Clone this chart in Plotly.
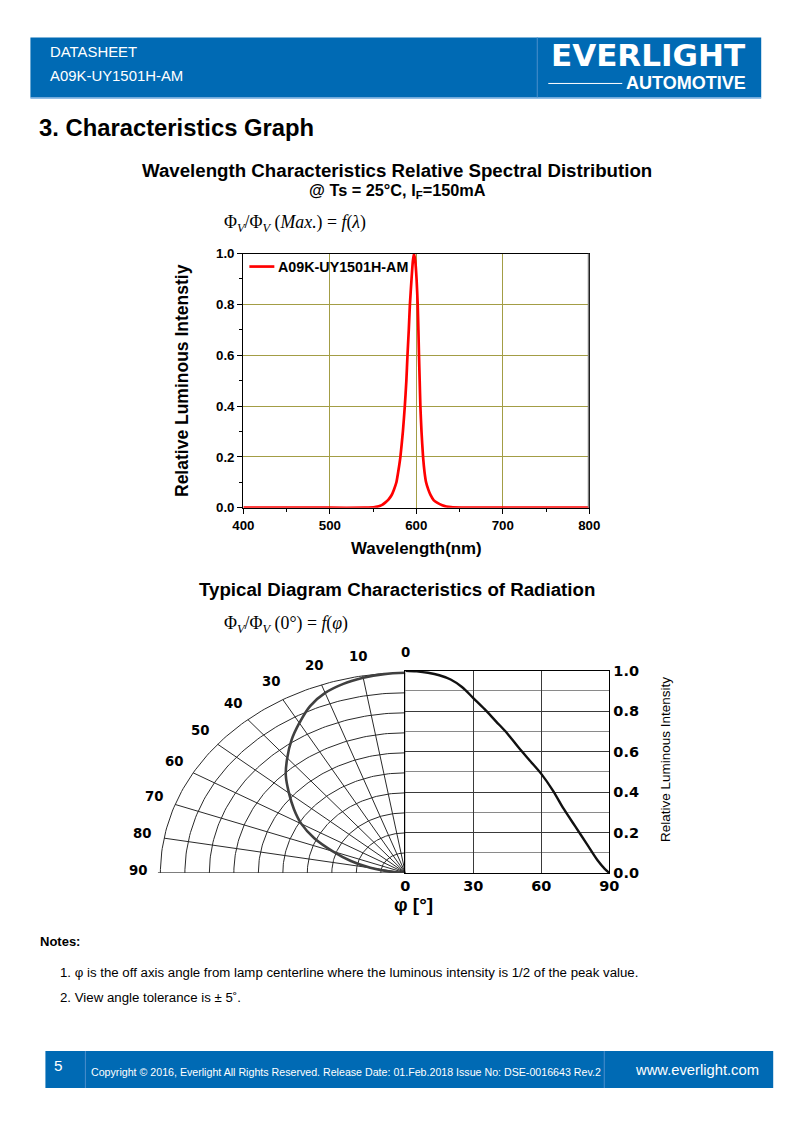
import math
import plotly.graph_objects as go

# Figure sized to fit inside the page body (8px default margin); positions are
# given in reference-page pixels and mapped through a calibrated transform.
OFF = 8
FW, FH = 778, 1107
SX, BX = 0.972, 10.8
SY, BY = 0.985, 8.7
def px(x): return ((x - BX) / SX - OFF) / FW
def py(y): return 1 - ((y - BY) / SY - OFF) / FH

# ---------------- data ----------------
wavelength_nm = [400, 500, 540, 552, 560, 564, 568, 571.5, 574, 577,
                 579.5, 581.6, 584.5, 586.7, 588.5, 589.8, 591.3, 592.6, 594.5, 596,
                 597.3, 598.8, 600.3, 601.6, 602.4, 603.1, 603.9, 604.7, 606, 607.8,
                 609.5, 611.3, 614, 616.4, 620, 624, 630, 640, 660, 700, 800]
rel_intensity = [0, 0, 0, 0.002, 0.01, 0.02, 0.033, 0.05, 0.07, 0.1,
                 0.15, 0.2, 0.3, 0.4, 0.5, 0.6, 0.7, 0.8, 0.9, 0.97,
                 1.0, 0.97, 0.9, 0.8, 0.7, 0.6, 0.5, 0.4, 0.3, 0.2,
                 0.14, 0.1, 0.07, 0.05, 0.03, 0.02, 0.01, 0.002, 0, 0, 0]
series_name = "A09K-UY1501H-AM"

wl_ticks = [400, 500, 600, 700, 800]
int_ticks = [0.0, 0.2, 0.4, 0.6, 0.8, 1.0]
int_tick_text = ["0.0", "0.2", "0.4", "0.6", "0.8", "1.0"]

angle_deg = [0, 5, 10, 15, 20, 25, 30, 35, 40, 45, 50, 55, 60, 65, 70, 75, 80, 85, 88, 90]
rad_intensity = [1.0, 0.997, 0.99, 0.978, 0.957, 0.92, 0.865, 0.81, 0.75, 0.69,
                 0.62, 0.555, 0.49, 0.41, 0.315, 0.23, 0.145, 0.06, 0.02, 0.0]
angle_ticks = [0, 30, 60, 90]
polar_angle_labels = [0, 10, 20, 30, 40, 50, 60, 70, 80, 90]
polar_rings = [0.1, 0.2, 0.3, 0.4, 0.5, 0.6, 0.7, 0.8, 0.9, 1.0]

BLUE = "rgb(0,106,180)"
OLIVE = "#A39D45"
FONT = "Liberation Sans"
WIDE = "DejaVu Sans"

fig = go.Figure()

# ---------- spectral chart ----------
fig.add_trace(go.Scatter(
    x=wavelength_nm, y=rel_intensity, mode="lines", name=series_name,
    line=dict(color="#FF0000", width=2.7, shape="spline", smoothing=0.5),
    xaxis="x", yaxis="y", showlegend=False))

# ---------- polar diagram (drawn on a stretched cartesian plane) ----------
gx, gy = [], []
for r in polar_rings:
    for k in range(0, 91):
        t = math.radians(k)
        gx.append(-r * math.sin(t)); gy.append(r * math.cos(t))
    gx.append(None); gy.append(None)
for a in range(10, 90, 10):
    t = math.radians(a)
    gx += [0, -math.sin(t), None]; gy += [0, math.cos(t), None]
gx += [0, 0, None, 0, -1.01]; gy += [0, 1.0, None, 0, 0]
fig.add_trace(go.Scatter(x=gx, y=gy, mode="lines", line=dict(color="#2a2a2a", width=1),
                         xaxis="x2", yaxis="y2", showlegend=False, hoverinfo="skip"))

pxs = [-r * math.sin(math.radians(a)) for a, r in zip(angle_deg, rad_intensity)]
pys = [r * math.cos(math.radians(a)) for a, r in zip(angle_deg, rad_intensity)]
fig.add_trace(go.Scatter(x=pxs, y=pys, mode="lines",
                         line=dict(color="#404040", width=2.6, shape="spline"),
                         xaxis="x2", yaxis="y2", showlegend=False))

# ---------- cartesian radiation chart ----------
fig.add_trace(go.Scatter(x=angle_deg, y=rad_intensity, mode="lines",
                         line=dict(color="#111111", width=2.4, shape="spline"),
                         xaxis="x3", yaxis="y3", showlegend=False))

tickf = dict(family=FONT, size=13.3, color="black", weight="bold")
tickw = dict(family=WIDE, size=14.5, color="black", weight="bold")

fig.update_layout(
    width=FW, height=FH, margin=dict(l=0, r=0, t=0, b=0),
    paper_bgcolor="white", plot_bgcolor="white",
    font=dict(family=FONT, color="black"),
    xaxis=dict(domain=[px(243), px(589)], range=[400, 800], tickvals=wl_ticks,
               ticks="outside", ticklen=5, tickcolor="black", tickwidth=1,
               minor=dict(tickvals=[450, 550, 650, 750], ticks="outside", ticklen=3, tickcolor="black"),
               showgrid=True, gridcolor=OLIVE, gridwidth=1.3,
               showline=True, linecolor="black", linewidth=1.4, mirror=True,
               zeroline=False, tickfont=tickf, anchor="y", fixedrange=True),
    yaxis=dict(domain=[py(508), py(254)], range=[0, 1], tickvals=int_ticks, ticktext=int_tick_text,
               ticks="outside", ticklen=5, tickcolor="black",
               minor=dict(tickvals=[0.1, 0.3, 0.5, 0.7, 0.9], ticks="outside", ticklen=3, tickcolor="black"),
               showgrid=True, gridcolor=OLIVE, gridwidth=1.3,
               showline=True, linecolor="black", linewidth=1.4, mirror=True,
               zeroline=False, tickfont=tickf, anchor="x", fixedrange=True),
    xaxis2=dict(domain=[px(405 - 1.2 * 245), px(405)], range=[-1.2, 0], visible=False,
                anchor="y2", fixedrange=True),
    yaxis2=dict(domain=[py(873), py(873 - 1.15 * 200)], range=[0, 1.15], visible=False,
                anchor="x2", fixedrange=True),
    xaxis3=dict(domain=[px(405), px(609)], range=[0, 90], tickvals=angle_ticks,
                showgrid=True, gridcolor="#3a3a3a", gridwidth=1, ticks="",
                showline=True, linecolor="black", linewidth=1.3, mirror=True,
                zeroline=False, tickfont=tickw, anchor="y3", fixedrange=True),
    yaxis3=dict(domain=[py(873), py(671)], range=[0, 1], tickvals=int_ticks, ticktext=int_tick_text,
                side="right", ticks="", showgrid=True, gridcolor="#3a3a3a", gridwidth=1,
                minor=dict(tickvals=[0.1, 0.3, 0.5, 0.7, 0.9], showgrid=True, gridcolor="#8a8a8a", gridwidth=1),
                showline=True, linecolor="black", linewidth=1.3, mirror=True,
                zeroline=False, tickfont=tickw, anchor="x3", fixedrange=True),
    showlegend=False,
)

shapes = [
    # header
    dict(type="rect", xref="paper", yref="paper", x0=px(30), x1=px(761), y0=py(98), y1=py(38),
         fillcolor=BLUE, line=dict(width=0), layer="below"),
    dict(type="line", xref="paper", yref="paper", x0=px(30), x1=px(761), y0=py(98.5), y1=py(98.5),
         line=dict(color="#6FA8DC", width=1.5)),
    dict(type="line", xref="paper", yref="paper", x0=px(537), x1=px(537), y0=py(98), y1=py(38),
         line=dict(color="#4A8FCC", width=1)),
    dict(type="line", xref="paper", yref="paper", x0=px(548), x1=px(622), y0=py(84), y1=py(84),
         line=dict(color="white", width=1)),
    # footer
    dict(type="rect", xref="paper", yref="paper", x0=px(45), x1=px(773), y0=py(1088), y1=py(1051),
         fillcolor=BLUE, line=dict(width=0), layer="below"),
    dict(type="line", xref="paper", yref="paper", x0=px(85), x1=px(85), y0=py(1088), y1=py(1051),
         line=dict(color="#4A8FCC", width=1)),
    dict(type="line", xref="paper", yref="paper", x0=px(604), x1=px(604), y0=py(1088), y1=py(1051),
         line=dict(color="#4A8FCC", width=1)),
    # right border of spectral chart (grey)
    dict(type="line", xref="x", yref="y", x0=800, x1=800, y0=0, y1=1,
         line=dict(color="#7f7f7f", width=3)),
    # legend key line
    dict(type="line", xref="paper", yref="paper", x0=px(249), x1=px(274), y0=py(267), y1=py(267),
         line=dict(color="#FF0000", width=2.7)),
]

def ann(x, y, text, size, bold=False, color="black", family=FONT, xanchor="left", angle=0, yanchor="middle"):
    return dict(xref="paper", yref="paper", x=px(x), y=py(y), text=text, showarrow=False,
                xanchor=xanchor, yanchor=yanchor, textangle=angle,
                font=dict(family=family, size=size, color=color, weight="bold" if bold else "normal"))

annotations = [
    ann(48, 53, "DATASHEET", 14.9, color="white"),
    ann(48, 77, "A09K-UY1501H-AM", 14.9, color="white"),
    ann(747, 56, "EVERLIGHT", 31, bold=True, color="white", family="DejaVu Sans", xanchor="right"),
    ann(748, 83.5, "AUTOMOTIVE", 18, bold=True, color="white", xanchor="right"),
    ann(37, 128, "3. Characteristics Graph", 23.8, bold=True),
    ann(397, 171, "Wavelength Characteristics Relative Spectral Distribution", 18.7, bold=True, xanchor="center"),
    ann(397, 191, "@ Ts = 25°C, I<sub>F</sub>=150mA", 16.3, bold=True, xanchor="center"),
    ann(222, 224, "Φ<sub><i>V</i></sub>/Φ<sub><i>V</i></sub> (<i>Max.</i>) = <i>f</i>(<i>λ</i>)", 17.8,
        family="Liberation Serif"),
    ann(276, 267, series_name, 14.3, bold=True),
    ann(181, 381, "Relative Luminous Intenstiy", 17.5, bold=True, xanchor="center", angle=-90),
    ann(416, 549, "Wavelength(nm)", 16.9, bold=True, xanchor="center"),
    ann(397, 590, "Typical Diagram Characteristics of Radiation", 18.7, bold=True, xanchor="center"),
    ann(222, 625, "Φ<sub><i>V</i></sub>/Φ<sub><i>V</i></sub> (0°) = <i>f</i>(<i>φ</i>)", 17.8,
        family="Liberation Serif"),
    ann(666, 760, "Relative Luminous Intensity", 13.5, xanchor="center", angle=-90),
    ann(413, 905, "φ [°]", 19, bold=True, xanchor="center"),
    ann(38, 942, "Notes:", 13, bold=True),
    ann(58, 973, "1. φ is the off axis angle from lamp centerline where the luminous intensity is 1/2 of the peak value.", 13.25),
    ann(58, 998, "2. View angle tolerance is ± 5˚.", 13.25),
    ann(58, 1065, "5", 15.3, color="white", xanchor="center"),
    ann(89, 1072, "Copyright © 2016, Everlight All Rights Reserved. Release Date: 01.Feb.2018 Issue No: DSE-0016643 Rev.2", 10.65, color="white"),
    ann(697, 1070, "www.everlight.com", 14.75, color="white", xanchor="center"),
]

for a in polar_angle_labels:
    t = math.radians(a)
    annotations.append(dict(xref="x2", yref="y2", x=-1.09 * math.sin(t), y=1.09 * math.cos(t) + 0.01,
                            text=str(a), showarrow=False, xanchor="center", yanchor="middle",
                            font=dict(family=WIDE, size=13.3, color="black", weight="bold")))

fig.update_layout(shapes=shapes, annotations=annotations)
fig.write_html("out.html")
